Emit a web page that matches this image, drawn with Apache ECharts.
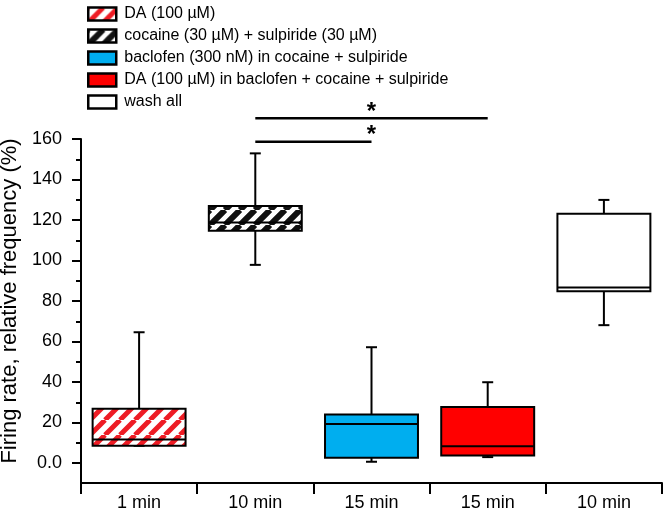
<!DOCTYPE html>
<html>
<head>
<meta charset="utf-8">
<script src="https://cdn.jsdelivr.net/npm/echarts@6/dist/echarts.min.js"></script>
<style>
html,body{margin:0;padding:0;background:#fff;}
#chart{width:665px;height:513px;}
</style>
</head>
<body>
<div id="chart"></div>
<script>
// ---- data ----
const categories = ['1 min', '10 min', '15 min', '15 min', '10 min'];
const seriesNames = [
  'DA (100 µM)',
  'cocaine (30 µM) + sulpiride (30 µM)',
  'baclofen (300 nM) in cocaine + sulpiride',
  'DA (100 µM) in baclofen + cocaine + sulpiride',
  'wash all'
];
const minVals    = [8.4, 97.8, 0.5, 2.8, 68.0];
const q1Vals     = [8.4, 114.6, 2.5, 3.6, 84.8];
const medianVals = [11.5, 118.7, 19.1, 8.2, 86.6];
const q3Vals     = [26.7, 126.9, 23.9, 27.5, 123.1];
const maxVals    = [64.5, 152.9, 57.1, 39.8, 129.9];
// significance bars: from category, to category, height, star x (category units)
const sigFrom  = [1, 1];
const sigTo    = [2, 3];
const sigY     = [158.7, 170.2];
const sigStarX = [1.53, 1.95];
const sigLabel = ['*', '*'];

// ---- styles ----
function stripe(color, bg, size, lw) {
  const c = document.createElement('canvas');
  c.width = size; c.height = size;
  const ctx = c.getContext('2d');
  ctx.fillStyle = bg; ctx.fillRect(0, 0, size, size);
  ctx.strokeStyle = color; ctx.lineWidth = lw;
  ctx.beginPath();
  [-size, 0, size].forEach(function (o) { ctx.moveTo(o, size); ctx.lineTo(o + size, 0); });
  ctx.stroke();
  return { type: 'pattern', image: c, repeat: 'repeat' };
}
const fills = [
  stripe('#ee1c24', '#ffffff', 15, 5),
  stripe('#111111', '#ffffff', 15, 6),
  '#00aeef',
  '#ff0000',
  '#ffffff'
];

const boxData = categories.map(function (c, i) {
  return [i, minVals[i], q1Vals[i], medianVals[i], q3Vals[i], maxVals[i]];
});
const sigData = sigFrom.map(function (f, i) { return [f, sigTo[i], sigY[i], sigStarX[i]]; });

const FONT = 'Liberation Sans, Arial, sans-serif';

const chart = echarts.init(document.getElementById('chart'), null, { renderer: 'canvas' });

const legendSeries = seriesNames.map(function (n, i) {
  return {
    name: n, type: 'bar', data: [], xAxisIndex: 0, yAxisIndex: 0,
    itemStyle: { color: fills[i], borderColor: '#000', borderWidth: 2 }
  };
});

chart.setOption({
  animation: false,
  backgroundColor: '#fff',
  legend: {
    orient: 'vertical', left: 82, top: 1, icon: 'rect',
    itemWidth: 28, itemHeight: 13, itemGap: 6, selectedMode: false,
    itemStyle: { borderColor: '#000', borderWidth: 2.5 },
    textStyle: { fontFamily: FONT, fontSize: 16, color: '#000', lineHeight: 16, padding: [0, 0, 0, 3] },
    data: seriesNames
  },
  grid: [
    { left: 81, right: 3, top: 139, bottom: 30, containLabel: false, outerBoundsMode: 'none' },
    { left: 81, right: 3, top: 139, bottom: 50, containLabel: false, outerBoundsMode: 'none' }
  ],
  xAxis: [
    {
      gridIndex: 0, type: 'category', data: categories, boundaryGap: true,
      axisLine: { onZero: false, lineStyle: { color: '#000', width: 2 } },
      axisTick: { show: true, inside: false, length: 11, lineStyle: { color: '#000', width: 2 } },
      axisLabel: { color: '#000', fontFamily: FONT, fontSize: 18, margin: 11 },
      splitLine: { show: false }
    },
    { gridIndex: 1, type: 'value', show: false, min: 0, max: 1 }
  ],
  yAxis: [
    {
      gridIndex: 0, type: 'value', min: -10, max: 160,
      axisLine: { show: true, onZero: false, lineStyle: { color: '#000', width: 2 } },
      axisTick: { show: false }, axisLabel: { show: false }, splitLine: { show: false }
    },
    {
      gridIndex: 1, type: 'value', min: 0, max: 160, interval: 20,
      name: 'Firing rate, relative frequency (%)', nameLocation: 'middle', nameGap: 57,
      nameTextStyle: { fontFamily: FONT, fontSize: 22, color: '#000' },
      axisLine: { show: false, onZero: false },
      axisTick: { show: true, length: 9, lineStyle: { color: '#000', width: 2 } },
      minorTick: { show: true, splitNumber: 2, length: 5, lineStyle: { color: '#000', width: 2 } },
      axisLabel: {
        color: '#000', fontFamily: FONT, fontSize: 18, margin: 19,
        formatter: function (v) { return v === 0 ? '0.0' : String(v); }
      },
      splitLine: { show: false }
    }
  ],
  series: legendSeries.concat([
    {
      type: 'custom', name: 'boxes', xAxisIndex: 0, yAxisIndex: 0, clip: false,
      data: boxData,
      renderItem: function (params, api) {
        const i = api.value(0);
        const lo = api.coord([i, api.value(1)]);
        const q1 = api.coord([i, api.value(2)]);
        const md = api.coord([i, api.value(3)]);
        const q3 = api.coord([i, api.value(4)]);
        const hi = api.coord([i, api.value(5)]);
        const cx = lo[0];
        const bw = api.size([1, 0])[0] * 0.8;
        const cap = 11;
        const ls = { stroke: '#000', lineWidth: 2 };
        return {
          type: 'group',
          children: [
            { type: 'line', shape: { x1: cx, y1: q3[1], x2: cx, y2: hi[1] }, style: ls },
            { type: 'line', shape: { x1: cx - cap / 2, y1: hi[1], x2: cx + cap / 2, y2: hi[1] }, style: ls },
            { type: 'line', shape: { x1: cx, y1: q1[1], x2: cx, y2: lo[1] }, style: ls },
            { type: 'line', shape: { x1: cx - cap / 2, y1: lo[1], x2: cx + cap / 2, y2: lo[1] }, style: ls },
            { type: 'rect', shape: { x: cx - bw / 2, y: q3[1], width: bw, height: q1[1] - q3[1] },
              style: { fill: fills[i], stroke: '#000', lineWidth: 2 } },
            { type: 'line', shape: { x1: cx - bw / 2, y1: md[1], x2: cx + bw / 2, y2: md[1] }, style: ls }
          ]
        };
      }
    },
    {
      type: 'custom', name: 'sig', xAxisIndex: 0, yAxisIndex: 0, clip: false,
      data: sigData,
      renderItem: function (params, api) {
        const a = api.coord([api.value(0), api.value(2)]);
        const b = api.coord([api.value(1), api.value(2)]);
        const s = api.coord([api.value(3), api.value(2)]);
        return {
          type: 'group',
          children: [
            { type: 'line', shape: { x1: a[0], y1: a[1], x2: b[0], y2: b[1] }, style: { stroke: '#000', lineWidth: 2.5 } },
            { type: 'text', style: { x: s[0], y: s[1] + 6, text: sigLabel[params.dataIndex],
              fill: '#000', font: 'bold 24px ' + FONT, align: 'center', verticalAlign: 'bottom' } }
          ]
        };
      }
    }
  ])
});
</script>
</body>
</html>
